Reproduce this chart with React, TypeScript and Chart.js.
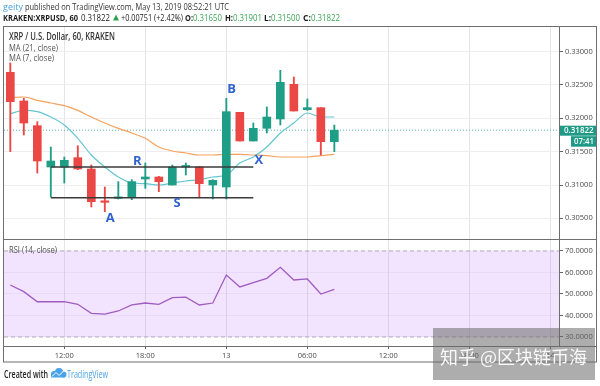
import React, { useEffect, useRef } from "react";
import { Chart, registerables } from "chart.js";

Chart.register(...registerables);

// ---------- data ----------
const hours = [
  "08:00", "09:00", "10:00", "11:00", "12:00", "13:00", "14:00", "15:00", "16:00",
  "17:00", "18:00", "19:00", "20:00", "21:00", "22:00", "23:00", "00:00", "01:00",
  "02:00", "03:00", "04:00", "05:00", "06:00", "07:00", "08:00",
];
const opens = [0.3269, 0.3226, 0.3189, 0.3127, 0.3127, 0.3141, 0.3124, 0.3075, 0.308, 0.3082, 0.3109, 0.3112, 0.31, 0.3127, 0.3127, 0.31, 0.3097, 0.3209, 0.3166, 0.3185, 0.3199, 0.3251, 0.3213, 0.3216, 0.3165];
const highs = [0.3283, 0.323, 0.3195, 0.3157, 0.3142, 0.3159, 0.313, 0.3097, 0.3105, 0.3108, 0.3133, 0.3113, 0.313, 0.3133, 0.3128, 0.3108, 0.323, 0.3209, 0.3193, 0.3217, 0.3272, 0.3262, 0.3229, 0.3216, 0.319];
const lows = [0.315, 0.3175, 0.3118, 0.3082, 0.3103, 0.3123, 0.3067, 0.306, 0.3079, 0.3078, 0.3095, 0.309, 0.31, 0.3115, 0.3082, 0.3079, 0.3079, 0.3166, 0.3166, 0.3178, 0.319, 0.3211, 0.3212, 0.3145, 0.315];
const closes = [0.3225, 0.3193, 0.3136, 0.3136, 0.3137, 0.3124, 0.3075, 0.3074, 0.3082, 0.3105, 0.3112, 0.3105, 0.3127, 0.3128, 0.3102, 0.3107, 0.321, 0.3166, 0.3185, 0.3202, 0.3254, 0.3211, 0.3216, 0.3165, 0.31822];
const ma21 = [0.3231, 0.3232, 0.3227, 0.3223, 0.3219, 0.3212, 0.3202, 0.3193, 0.3185, 0.3178, 0.317, 0.3157, 0.3151, 0.3148, 0.3145, 0.3145, 0.3146, 0.3146, 0.3145, 0.3144, 0.3142, 0.3142, 0.3142, 0.3144, 0.3146];
const ma7 = [0.3207, 0.3212, 0.321, 0.3202, 0.319, 0.317, 0.3145, 0.3127, 0.3112, 0.3103, 0.3102, 0.31, 0.3103, 0.3106, 0.3108, 0.3112, 0.3115, 0.3133, 0.3142, 0.3157, 0.3178, 0.3193, 0.3208, 0.3202, 0.3202];
const rsi = [54.2, 51.1, 46.4, 46.4, 46.4, 45.2, 41.0, 40.6, 42.1, 44.9, 45.8, 45.2, 48.3, 48.5, 44.9, 45.8, 58.8, 53.3, 55.3, 57.3, 62.4, 56.5, 57.0, 50.0, 52.2];

const priceTicks = [0.305, 0.31, 0.315, 0.32, 0.325, 0.33];
const rsiTicks = [30, 40, 50, 60, 70];
const timeTickIdx = [4, 10, 16, 22, 28, 34, 40];
const timeTickLabels = ["12:00", "18:00", "13", "06:00", "12:00", "18:00", "14"];
const lastPrice = 0.31822;
const rsiUpper = 70;
const rsiLower = 30;
const resistance = 0.3127;
const support = 0.3081;
const levelSpan = [3, 18];
const markLetters = ["R", "S", "A", "B", "X"];
const markHours = [9.4, 12.35, 7.4, 16.4, 18.4];
const markPrices = [0.3135, 0.3073, 0.305, 0.3244, 0.3137];

// view range (hours from first candle)
const X_MIN = -0.467;
const X_MAX = 40.64;

const FONT = "'Open Sans', 'DejaVu Sans', sans-serif";
const UP = "#1f9e87";
const DOWN = "#ea4745";

function put(ctx: any, s: string, x: number, y: number, font: string, color: string, maxW?: number) {
  ctx.font = font;
  ctx.fillStyle = color;
  ctx.textAlign = "left";
  ctx.textBaseline = "alphabetic";
  if (maxW) ctx.fillText(s, x, y, maxW);
  else ctx.fillText(s, x, y);
}

const overlayPlugin = {
  id: "overlay",
  beforeDraw(chart: any) {
    const { ctx, width, height } = chart;
    ctx.save();
    ctx.fillStyle = "#ffffff";
    ctx.fillRect(0, 0, width, height);
    ctx.restore();
  },
  afterDraw(chart: any) {
    const { ctx } = chart;
    const xs = chart.scales.x;
    const ys = chart.scales.y;
    const rs = chart.scales.rsi;
    const area = chart.chartArea;
    ctx.save();

    // frame and pane separators
    ctx.strokeStyle = "#6e6e6e";
    ctx.lineWidth = 1;
    ctx.strokeRect(3.5, 26.5, 593, 335.5);
    const hl = (y: number) => {
      ctx.beginPath();
      ctx.moveTo(3.5, y);
      ctx.lineTo(596.5, y);
      ctx.stroke();
    };
    hl(Math.round(rs.top) + 0.5);
    hl(Math.round(area.bottom) + 0.5);
    ctx.beginPath();
    ctx.moveTo(Math.round(area.right) + 0.5, 26.5);
    ctx.lineTo(Math.round(area.right) + 0.5, Math.round(area.bottom) + 0.5);
    ctx.stroke();

    // header
    put(ctx, "geity", 3, 10, `9.5px ${FONT}`, "#4aa3df", 20);
    put(ctx, "published on TradingView.com, May 13, 2019 08:52:21 UTC", 25, 10, `9.5px ${FONT}`, "#333", 204);
    const G = "#3aa655";
    const B = `bold 9.5px ${FONT}`;
    const N = `9.5px ${FONT}`;
    put(ctx, "KRAKEN:XRPUSD, 60", 3, 21, B, "#1a1a1a", 75);
    put(ctx, "0.31822", 81, 21, N, "#222", 29);
    ctx.fillStyle = "#2ea24a";
    ctx.beginPath();
    ctx.moveTo(113, 20.5);
    ctx.lineTo(119, 20.5);
    ctx.lineTo(116, 14.5);
    ctx.closePath();
    ctx.fill();
    put(ctx, "+0.00751 (+2.42%)", 121, 21, N, "#222", 62);
    put(ctx, "O:", 185, 21, B, "#1a1a1a", 8);
    put(ctx, "0.31650", 193, 21, N, G, 29);
    put(ctx, "H:", 225, 21, B, "#1a1a1a", 8);
    put(ctx, "0.31901", 233, 21, N, G, 29);
    put(ctx, "L:", 264, 21, B, "#1a1a1a", 7);
    put(ctx, "0.31500", 271, 21, N, G, 29);
    put(ctx, "C:", 303, 21, B, "#1a1a1a", 8);
    put(ctx, "0.31822", 311, 21, N, G, 29);

    // pane legends
    put(ctx, "XRP / U.S. Dollar, 60, KRAKEN", 9, 39.5, `600 10px ${FONT}`, "#333", 106);
    put(ctx, "MA (21, close)", 9, 51, `9.5px ${FONT}`, "#555", 49);
    put(ctx, "MA (7, close)", 9, 61, `9.5px ${FONT}`, "#555", 45);
    put(ctx, "RSI (14, close)", 9, 252.5, `9.5px ${FONT}`, "#555", 48);

    // pattern letters
    ctx.font = `bold 13px ${FONT}`;
    ctx.fillStyle = "#2f62cf";
    ctx.textAlign = "center";
    ctx.textBaseline = "middle";
    markLetters.forEach((t, i) => {
      ctx.fillText(t, xs.getPixelForValue(markHours[i]), ys.getPixelForValue(markPrices[i]));
    });

    // last price label
    const py = ys.getPixelForValue(lastPrice);
    ctx.fillStyle = "#1e9a86";
    ctx.fillRect(560, py - 4.5, 36, 10);
    ctx.fillRect(571, py + 6, 25, 10.5);
    ctx.fillStyle = "#ffffff";
    ctx.textAlign = "left";
    ctx.textBaseline = "middle";
    ctx.font = `600 8px ${FONT}`;
    ctx.fillText("0.31822", 564, py + 0.5, 30);
    ctx.fillText("07:41", 574, py + 11.5, 20);

    // footer
    put(ctx, "Created with", 4, 377.5, `600 10px ${FONT}`, "#222", 44);
    ctx.fillStyle = "#4aa3e6";
    ctx.beginPath();
    ctx.arc(54, 374, 3, 0, Math.PI * 2);
    ctx.arc(59, 372, 4, 0, Math.PI * 2);
    ctx.fill();
    ctx.beginPath();
    ctx.arc(63.5, 374.5, 3, 0, Math.PI * 2);
    ctx.fill();
    ctx.fillRect(51, 374, 14, 3.5);
    ctx.strokeStyle = "#ffffff";
    ctx.lineWidth = 1;
    ctx.beginPath();
    ctx.moveTo(52, 376.5);
    ctx.lineTo(56, 372.5);
    ctx.lineTo(59, 375.5);
    ctx.lineTo(64, 370.5);
    ctx.stroke();
    put(ctx, "TradingView", 67, 377.5, `10px ${FONT}`, "#4ba3e3", 41);

    // watermark
    ctx.fillStyle = "rgba(105,105,105,0.55)";
    ctx.fillRect(433, 328, 162, 52);
    put(ctx, "知乎 @区块链币海", 440, 364, "18px 'Noto Sans CJK SC', sans-serif", "rgba(255,255,255,0.92)", 150);

    ctx.restore();
  },
};

export default function App() {
  const ref = useRef<HTMLCanvasElement | null>(null);

  useEffect(() => {
    if (!ref.current) return;
    const candleColors = opens.map((o, i) => (closes[i] >= o ? UP : DOWN));
    const chart = new Chart(ref.current, {
      type: "line",
      data: {
        datasets: [
          {
            type: "line",
            yAxisID: "rsi",
            data: [{ x: X_MIN, y: rsiUpper }, { x: X_MAX, y: rsiUpper }],
            borderColor: "#b3aab9",
            borderDash: [4, 3],
            borderWidth: 1,
            pointRadius: 0,
            fill: "+1",
            backgroundColor: "rgba(190,120,250,0.2)",
            order: 20,
          },
          {
            type: "line",
            yAxisID: "rsi",
            data: [{ x: X_MIN, y: rsiLower }, { x: X_MAX, y: rsiLower }],
            borderColor: "#b3aab9",
            borderDash: [4, 3],
            borderWidth: 1,
            pointRadius: 0,
            fill: false,
            order: 19,
          },
          {
            type: "line",
            yAxisID: "y",
            data: [{ x: X_MIN, y: lastPrice }, { x: X_MAX, y: lastPrice }],
            borderColor: "#5bb5ad",
            borderDash: [1, 2],
            borderWidth: 1,
            pointRadius: 0,
            fill: false,
            order: 15,
          },
          {
            type: "line",
            yAxisID: "y",
            data: hours.map((_, i) => ({ x: i, y: ma21[i] })),
            borderColor: "#f5a25c",
            borderWidth: 1.2,
            pointRadius: 0,
            cubicInterpolationMode: "monotone",
            fill: false,
            order: 6,
          },
          {
            type: "line",
            yAxisID: "y",
            data: hours.map((_, i) => ({ x: i, y: ma7[i] })),
            borderColor: "#62c6d2",
            borderWidth: 1.2,
            pointRadius: 0,
            cubicInterpolationMode: "monotone",
            fill: false,
            order: 5,
          },
          {
            type: "bar",
            yAxisID: "y",
            data: hours.map((_, i) => ({ x: i, y: [lows[i], highs[i]] })),
            backgroundColor: candleColors,
            barThickness: 1.2,
            grouped: false,
            borderWidth: 0,
            order: 4,
          },
          {
            type: "bar",
            yAxisID: "y",
            data: hours.map((_, i) => ({ x: i, y: [opens[i], closes[i]] })),
            backgroundColor: candleColors,
            barThickness: 8,
            minBarLength: 1.5,
            grouped: false,
            borderWidth: 0,
            order: 3,
          },
          {
            type: "line",
            yAxisID: "y",
            data: [{ x: levelSpan[0], y: resistance }, { x: levelSpan[1], y: resistance }],
            borderColor: "#3a3a3a",
            borderWidth: 1.5,
            pointRadius: 0,
            fill: false,
            order: 2,
          },
          {
            type: "line",
            yAxisID: "y",
            data: [{ x: levelSpan[0], y: support }, { x: levelSpan[1], y: support }],
            borderColor: "#3a3a3a",
            borderWidth: 1.5,
            pointRadius: 0,
            fill: false,
            order: 2,
          },
          {
            type: "line",
            yAxisID: "rsi",
            data: hours.map((_, i) => ({ x: i, y: rsi[i] })),
            borderColor: "#a05cc0",
            borderWidth: 1.3,
            pointRadius: 0,
            fill: false,
            order: 1,
          },
        ],
      },
      options: {
        responsive: false,
        devicePixelRatio: 1,
        animation: false,
        events: [],
        layout: { padding: { left: 4, right: 4, top: 27, bottom: 24 } },
        plugins: { legend: { display: false }, tooltip: { enabled: false } },
        scales: {
          x: {
            type: "linear",
            min: X_MIN,
            max: X_MAX,
            offset: false,
            afterBuildTicks: (s: any) => {
              s.ticks = timeTickIdx.map((v) => ({ value: v }));
            },
            afterFit: (s: any) => {
              s.height = 16;
            },
            ticks: {
              autoSkip: false,
              maxRotation: 0,
              padding: 2,
              color: "#4a4a4a",
              font: { family: FONT, size: 7.5 },
              callback: (v: any) => {
                const k = timeTickIdx.indexOf(Number(v));
                return k >= 0 ? timeTickLabels[k] : "";
              },
            },
            grid: { color: "#e4e4ea", tickColor: "#666", tickLength: 3, offset: false },
            border: { display: false },
          },
          y: {
            type: "linear",
            axis: "y",
            position: "right",
            stack: "pane",
            stackWeight: 212,
            min: 0.3019,
            max: 0.3337,
            afterBuildTicks: (s: any) => {
              s.ticks = priceTicks.map((v) => ({ value: v }));
            },
            afterFit: (s: any) => {
              s.width = 37;
            },
            ticks: {
              padding: 2,
              color: "#4a4a4a",
              font: { family: FONT, size: 7.5 },
              callback: (v: any) => Number(v).toFixed(5),
            },
            grid: { color: "#eeeef2", tickColor: "#666", tickLength: 4 },
            border: { display: false },
          },
          rsi: {
            type: "linear",
            axis: "y",
            position: "right",
            stack: "pane",
            stackWeight: 107,
            min: 25.81,
            max: 75.58,
            afterBuildTicks: (s: any) => {
              s.ticks = rsiTicks.map((v) => ({ value: v }));
            },
            afterFit: (s: any) => {
              s.width = 37;
            },
            ticks: {
              padding: 2,
              color: "#4a4a4a",
              font: { family: FONT, size: 7.5 },
              callback: (v: any) => Number(v).toFixed(4),
            },
            grid: { color: "rgba(110,70,150,0.08)", tickColor: "#666", tickLength: 4 },
            border: { display: false },
          },
        },
      },
      plugins: [overlayPlugin],
    } as any);
    return () => chart.destroy();
  }, []);

  return (
    <div style={{ position: "fixed", left: 0, top: 0, width: 600, height: 386, background: "#fff" }}>
      <canvas ref={ref} width={600} height={386} style={{ width: 600, height: 386, display: "block" }} />
    </div>
  );
}
